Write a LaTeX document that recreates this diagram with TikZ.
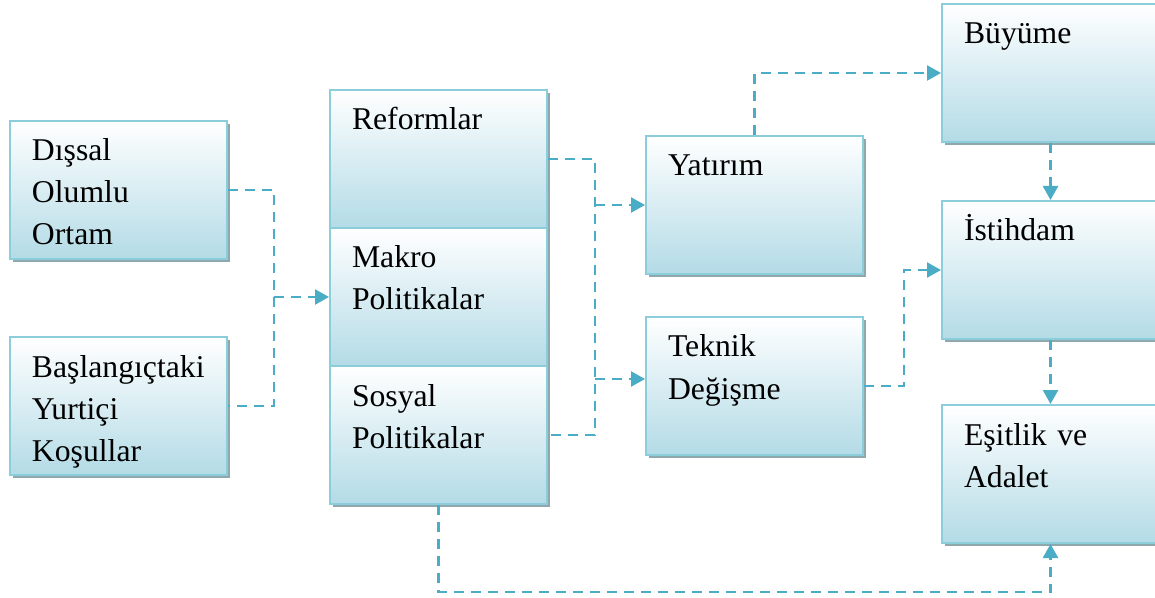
\documentclass[tikz,border=0pt]{standalone}
\usepackage{fontspec}
\setmainfont{Liberation Serif}
\usetikzlibrary{arrows.meta,shadows}
\definecolor{boxline}{HTML}{8CCDDB}
\definecolor{boxfill}{HTML}{B3DBE6}
\definecolor{boxshade}{HTML}{8FA8AE}
\definecolor{linkcol}{HTML}{4BACC6}

\begin{document}
\begin{tikzpicture}[x=0.5pt, y=-0.5pt,
  block/.style={draw=boxline, line width=1pt, top color=white, bottom color=boxfill,
    drop shadow={shadow xshift=1.5pt, shadow yshift=-1.5pt, fill=boxshade, opacity=1},
    anchor=north west, align=left, text width=86.5pt, inner xsep=11pt, inner ysep=0pt,
    text height=20pt, text depth=49pt, font=\fontsize{15.85}{21}\selectfont},
  link/.style={draw=linkcol, line width=1.2pt, dash pattern=on 5pt off 3.5pt},
  flow/.style={link, -{Triangle[length=7pt, width=7.5pt]}}]
\useasboundingbox (0,0) rectangle (1155,598);

\node (dissal) [block] at (9,120) {Dışsal\\Olumlu\\Ortam};
\node (baslangic) [block] at (9,336) {Başlangıçtaki\\Yurtiçi\\Koşullar};
\node (reform) [block] at (329,89) {Reformlar};
\node (makro) [block] at (329,227) {Makro\\Politikalar};
\node (sosyal) [block] at (329,365) {Sosyal\\Politikalar};
\node (yatirim) [block] at (645,135) {Yatırım};
\node (teknik) [block] at (645,316) {Teknik\\Değişme};
\node (buyume) [block] at (941,3) {Büyüme};
\node (istihdam) [block] at (941,200) {İstihdam};
\node (esitlik) [block] at (941,404) {Eşitlik ve\\Adalet};

\coordinate (j1) at ([xshift=23pt]dissal.east |- makro.west);
\coordinate (j2) at ([xshift=23.5pt]reform.east |- makro.west);
\coordinate (j3) at ([xshift=20pt]teknik.east);
\coordinate (loop) at ([yshift=-43.5pt]sosyal.south);

\draw[link] (dissal.east) -| (j1) |- (baslangic.east);
\draw[flow] (j1) -- (makro.west);
\draw[link] (reform.east) -| (j2) |- (sosyal.east);
\draw[flow] (j2 |- yatirim.west) -- (yatirim.west);
\draw[flow] (j2 |- teknik.west) ++(0,-7) -- ([yshift=3.5pt]teknik.west);
\draw[flow] (yatirim.north) |- (buyume.west);
\draw[flow] (buyume.south) -- (istihdam.north);
\draw[flow] (teknik.east) -- (j3) |- (istihdam.west);
\draw[flow] (istihdam.south) -- (esitlik.north);
\draw[flow] (sosyal.south) -- (loop) -| (esitlik.south);
\end{tikzpicture}
\end{document}
